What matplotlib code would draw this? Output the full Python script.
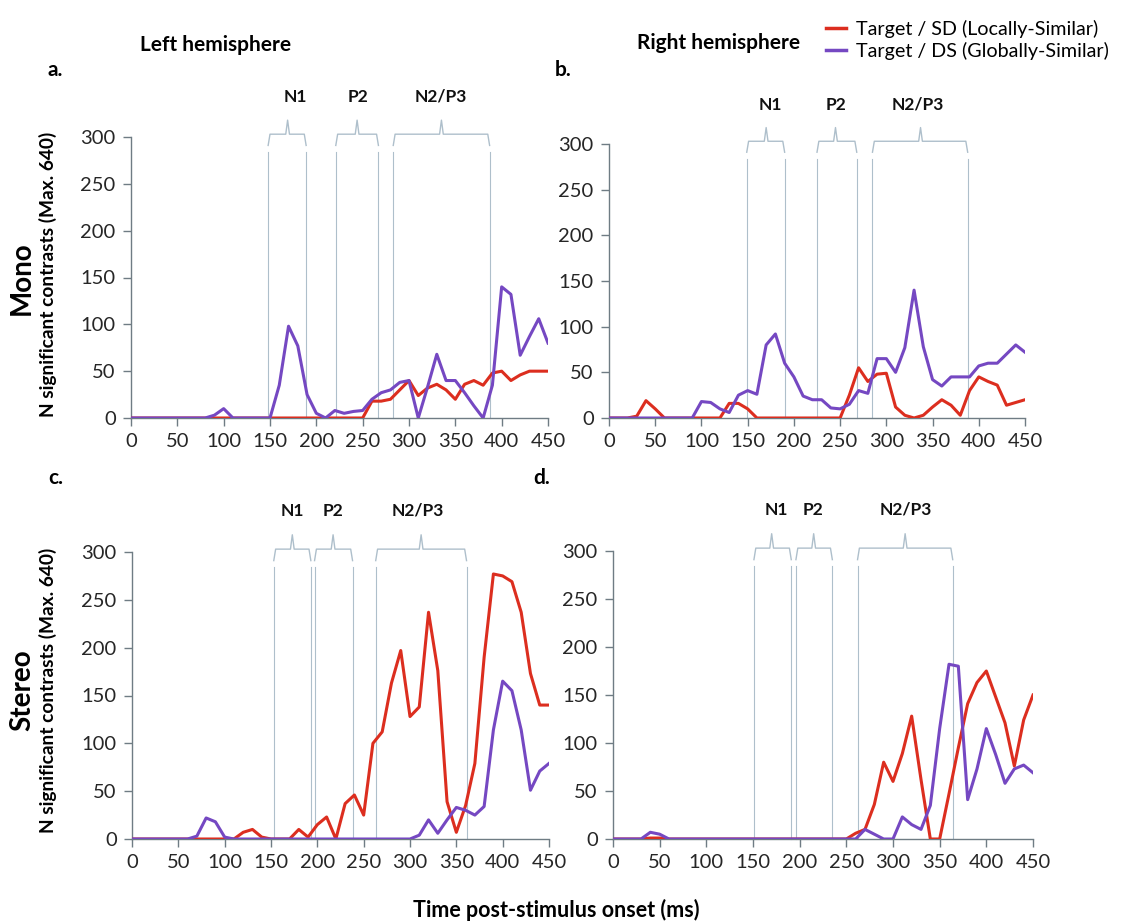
import numpy as np
import matplotlib.pyplot as plt
from matplotlib.lines import Line2D

plt.rcParams['font.family'] = ['Lato', 'DejaVu Sans']

TIME_MS = list(range(0, 451, 10))

# a. left hemisphere, mono
A_SD = [0] * 26 + [18, 18, 20, 30, 40, 24, 32, 36, 30, 20, 36, 40, 35, 48, 50, 40, 46, 50, 50, 50]
A_DS = [0] * 9 + [3, 10, 0, 0, 0, 0, 0, 35, 98, 77, 25, 5, 0, 8, 5, 7, 8, 20, 27, 30, 38, 40,
                  0, 33, 68, 40, 40, 27, 13, 0, 35, 140, 132, 67, 87, 106, 80]
# b. right hemisphere, mono
B_SD = [0, 0, 0, 2, 19, 10, 0] + [0] * 6 + [16, 16, 10, 0] + [0] * 9 + \
       [25, 55, 40, 48, 49, 12, 3, 0, 3, 12, 20, 14, 3, 30, 45, 40, 36, 14, 17, 20]
B_DS = [0] * 10 + [18, 17, 10, 6, 25, 30, 26, 80, 92, 60, 45, 24, 20, 20, 11, 10, 15, 30, 27,
                   65, 65, 50, 77, 140, 78, 42, 35, 45, 45, 45, 57, 60, 60, 70, 80, 72]
# c. left hemisphere, stereo
C_SD = [0] * 12 + [7, 10, 2, 0, 0, 0, 10, 2, 15, 23, 0, 37, 46, 25, 100, 112, 163, 197, 128,
                   138, 237, 176, 39, 7, 35, 79, 190, 277, 275, 269, 237, 173, 140, 140]
C_DS = [0] * 7 + [3, 22, 18, 2] + [0] * 20 + [4, 20, 6, 20, 33, 30, 25, 34, 114, 165, 155, 114,
                                             51, 71, 79]
# d. right hemisphere, stereo
D_SD = [0] * 4 + [1, 1] + [0] * 20 + [6, 10, 36, 80, 60, 89, 128, 62, 0, 0, 47, 95, 141, 163,
                                      175, 148, 121, 76, 124, 150]
D_DS = [0] * 4 + [7, 5] + [0] * 21 + [10, 5, 0, 0, 23, 15, 10, 35, 115, 182, 180, 41, 73, 115,
                                      88, 58, 73, 77, 69]

COMPONENTS = ["N1", "P2", "N2/P3"]
# window edges (ms), brace tip and label positions for each panel
WINDOWS = {
    "a": [(148, 189), (221, 267), (283, 387)],
    "b": [(149, 190), (225, 268), (285, 388)],
    "c": [(153, 193), (197, 238), (263, 361)],
    "d": [(151, 191), (196, 235), (262, 364)],
}
SPIKES = {
    "a": [169, 244, 335],
    "b": [170, 245, 337],
    "c": [173, 217, 312],
    "d": [170, 215, 313],
}
LABEL_X = {
    "a": [177, 245, 334],
    "b": [175, 246, 334],
    "c": [173, 217, 308],
    "d": [175, 214, 314],
}

RED = "#dc2e1f"
PURPLE = "#7548c2"
BRACKET = "#aebfcb"
SPINE = "#6f7c84"

W, H = 1132, 924


def rect(l, r, b, t):
    return [l / W, 1 - b / H, (r - l) / W, (b - t) / H]


def draw_panel(ax, key, sd, ds):
    ax.plot(TIME_MS, sd, color=RED, lw=2.2, zorder=3)
    ax.plot(TIME_MS, ds, color=PURPLE, lw=2.2, zorder=4)
    ax.set_xlim(0, 450)
    ax.set_ylim(0, 300)
    ax.set_xticks(range(0, 451, 50))
    ax.set_yticks(range(0, 301, 50))
    for s in ["top", "right"]:
        ax.spines[s].set_visible(False)
    for s in ["left", "bottom"]:
        ax.spines[s].set_color(SPINE)
        ax.spines[s].set_linewidth(1.0)
    ax.tick_params(direction="out", length=6, width=1.0, color=SPINE,
                   labelsize=14.5, labelcolor="#262626", pad=5)

    for (x0, x1), xs, xl, name in zip(WINDOWS[key], SPIKES[key], LABEL_X[key], COMPONENTS):
        for x in (x0, x1):
            ax.plot([x, x], [0, 284], color=BRACKET, lw=0.8, zorder=1, clip_on=False)
        bx = [x0, x0 + 2, xs - 2, xs, xs + 2, x1 - 2, x1]
        by = [291, 303, 303, 318, 303, 303, 291]
        ax.plot(bx, by, color=BRACKET, lw=1.0, clip_on=False)
        ax.text(xl, 343, name, ha="center", va="center", fontsize=12.5,
                fontweight="bold", color="#111111")


def main():
    fig = plt.figure(figsize=(W / 100, H / 100), dpi=100)

    axes = {
        "a": fig.add_axes(rect(131, 548, 418, 137)),
        "b": fig.add_axes(rect(609, 1025, 418, 144)),
        "c": fig.add_axes(rect(132, 549, 839, 552)),
        "d": fig.add_axes(rect(613, 1033, 839, 551)),
    }
    draw_panel(axes["a"], "a", A_SD, A_DS)
    draw_panel(axes["b"], "b", B_SD, B_DS)
    draw_panel(axes["c"], "c", C_SD, C_DS)
    draw_panel(axes["d"], "d", D_SD, D_DS)

    def ft(x, y, s, **kw):
        fig.text(x / W, 1 - y / H, s, **kw)

    ft(140, 45, "Left hemisphere", fontsize=15, fontweight="bold", va="center")
    ft(637, 43, "Right hemisphere", fontsize=15, fontweight="bold", va="center")
    ft(48, 70, "a.", fontsize=15, fontweight="bold", va="center")
    ft(555, 70, "b.", fontsize=15, fontweight="bold", va="center")
    ft(48, 478, "c.", fontsize=15, fontweight="bold", va="center")
    ft(533, 478, "d.", fontsize=15, fontweight="bold", va="center")

    ft(22, 278, "Mono", fontsize=20, fontweight="bold", rotation=90, ha="center", va="center")
    ft(22, 690, "Stereo", fontsize=20, fontweight="bold", rotation=90, ha="center", va="center")
    ft(48, 274, "N significant contrasts (Max. 640)", fontsize=13.8, fontweight="bold",
       rotation=90, ha="center", va="center")
    ft(48, 690, "N significant contrasts (Max. 640)", fontsize=13.8, fontweight="bold",
       rotation=90, ha="center", va="center")
    ft(556, 910, "Time post-stimulus onset (ms)", fontsize=15.5, fontweight="bold",
       ha="center", va="center")

    handles = [Line2D([], [], color=RED, lw=2.5),
               Line2D([], [], color=PURPLE, lw=2.5)]
    fig.legend(handles, ["Target / SD (Locally-Similar)", "Target / DS (Globally-Similar)"],
               loc="upper left", bbox_to_anchor=(808 / W, 1 - 2 / H), frameon=False,
               fontsize=14.2, handlelength=1.05, handletextpad=0.5, labelspacing=0.2)

    fig.savefig("out.png", dpi=100)


if __name__ == "__main__":
    main()
